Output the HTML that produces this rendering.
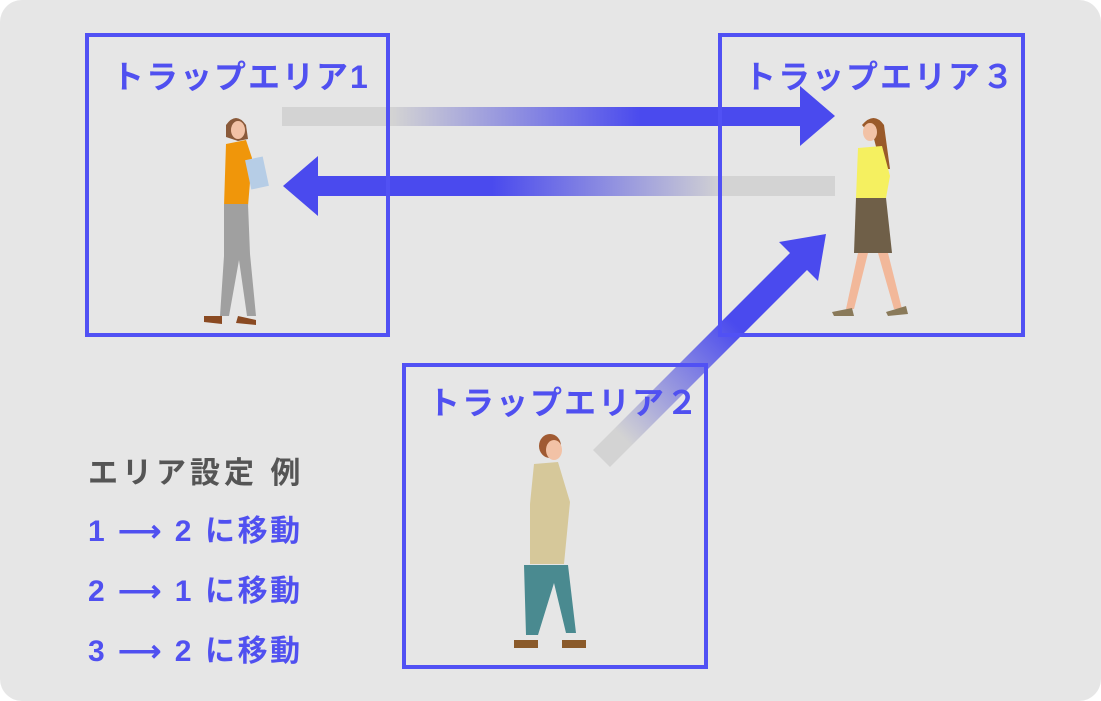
<!DOCTYPE html>
<html><head><meta charset="utf-8"><style>
html,body{margin:0;padding:0;background:#fff;width:1101px;height:701px;overflow:hidden}
.t{font-family:"Liberation Sans","Noto Sans CJK JP",sans-serif;font-weight:bold}
</style></head><body>
<svg width="1101" height="701" xmlns="http://www.w3.org/2000/svg">
<defs>
<linearGradient id="g1" x1="282" y1="0" x2="835" y2="0" gradientUnits="userSpaceOnUse">
<stop offset="0.2" stop-color="#d3d3d3"/><stop offset="0.65" stop-color="#4a4aee"/></linearGradient>
<linearGradient id="g2" x1="835" y1="0" x2="282" y2="0" gradientUnits="userSpaceOnUse">
<stop offset="0.2" stop-color="#d3d3d3"/><stop offset="0.62" stop-color="#4a4aee"/></linearGradient>
<linearGradient id="g3" x1="600" y1="460" x2="826" y2="234" gradientUnits="userSpaceOnUse">
<stop offset="0.1" stop-color="#d3d3d3"/><stop offset="0.6" stop-color="#4a4aee"/></linearGradient>
</defs>
<rect x="0" y="0" width="1101" height="701" rx="22" fill="#e6e6e6"/>
<polygon points="282,107 800,107 800,86 835,116 800,146 800,126 282,126" fill="url(#g1)"/>
<polygon points="835,176 318,176 318,156 283,186 318,216 318,196 835,196" fill="url(#g2)"/>
<polygon points="593,450 790,253 779,242 826,234 818,281 807,270 610,467" fill="url(#g3)"/>
<g fill="none" stroke="#5151f4" stroke-width="4">
<rect x="87" y="35" width="301" height="300"/>
<rect x="720" y="35" width="303" height="300"/>
<rect x="404" y="365" width="302" height="302"/>
</g>
<g class="t" fill="#5050f0" font-size="32" letter-spacing="2">
<text x="112" y="88">トラップエリア1</text>
<text x="744" y="88">トラップエリア３</text>
<text x="428" y="414">トラップエリア２</text>
</g>
<text class="t" x="88" y="483" font-size="30" fill="#555" letter-spacing="4">エリア設定 例</text>
<g class="t" fill="#5050f0" font-size="30" letter-spacing="2.6">
<text x="88" y="541">1 ⟶ 2 に移動</text>
<text x="88" y="601">2 ⟶ 1 に移動</text>
<text x="88" y="661">3 ⟶ 2 に移動</text>
</g>
<g>
<path d="M226,125 q10,-14 20,0 l2,14 -10,2 -12,-4z" fill="#8a5a3a"/>
<ellipse cx="238" cy="130" rx="7" ry="9" fill="#f2c2a6"/>
<path d="M226,144 l20,-4 6,18 -4,48 -24,0z" fill="#f0960a"/>
<rect x="248" y="158" width="18" height="30" fill="#b6cde6" transform="rotate(-12 257 173)"/>
<path d="M224,204 l24,0 2,50 6,62 -9,0 -8,-56 -10,56 -9,0 4,-60z" fill="#a0a0a0"/>
<path d="M204,316 l18,0 0,8 -18,-2z M238,316 l18,4 0,5 -20,-2z" fill="#8a4a22"/>
</g>
<g>
<path d="M862,125 q12,-14 22,0 l6,44 -8,0 -8,-30z" fill="#9a5a2a"/>
<ellipse cx="870" cy="132" rx="7" ry="9" fill="#f2c2a6"/>
<path d="M858,148 l24,-2 8,30 -4,22 -30,0z" fill="#f5f060"/>
<path d="M856,198 l30,0 6,55 -38,0z" fill="#6f5f48"/>
<path d="M858,253 l10,0 -14,56 -8,0z M878,253 l10,0 14,56 -8,0z" fill="#f2b89a"/>
<path d="M832,312 l20,-4 2,8 -20,0z M886,312 l20,-6 2,8 -20,2z" fill="#8a7a5a"/>
</g>
<g>
<ellipse cx="550" cy="446" rx="11" ry="12" fill="#a05a32"/>
<ellipse cx="554" cy="450" rx="8" ry="10" fill="#f2c2a6"/>
<path d="M534,464 l24,-2 12,40 -6,62 -34,0 0,-60z" fill="#d6c89a"/>
<path d="M524,565 l44,0 8,68 -10,0 -12,-50 -16,52 -12,0z" fill="#4a8a90"/>
<path d="M514,640 l24,0 0,8 -24,0z M562,640 l24,0 0,8 -24,0z" fill="#8a5a2a"/>
</g>
</svg>
</body></html>
